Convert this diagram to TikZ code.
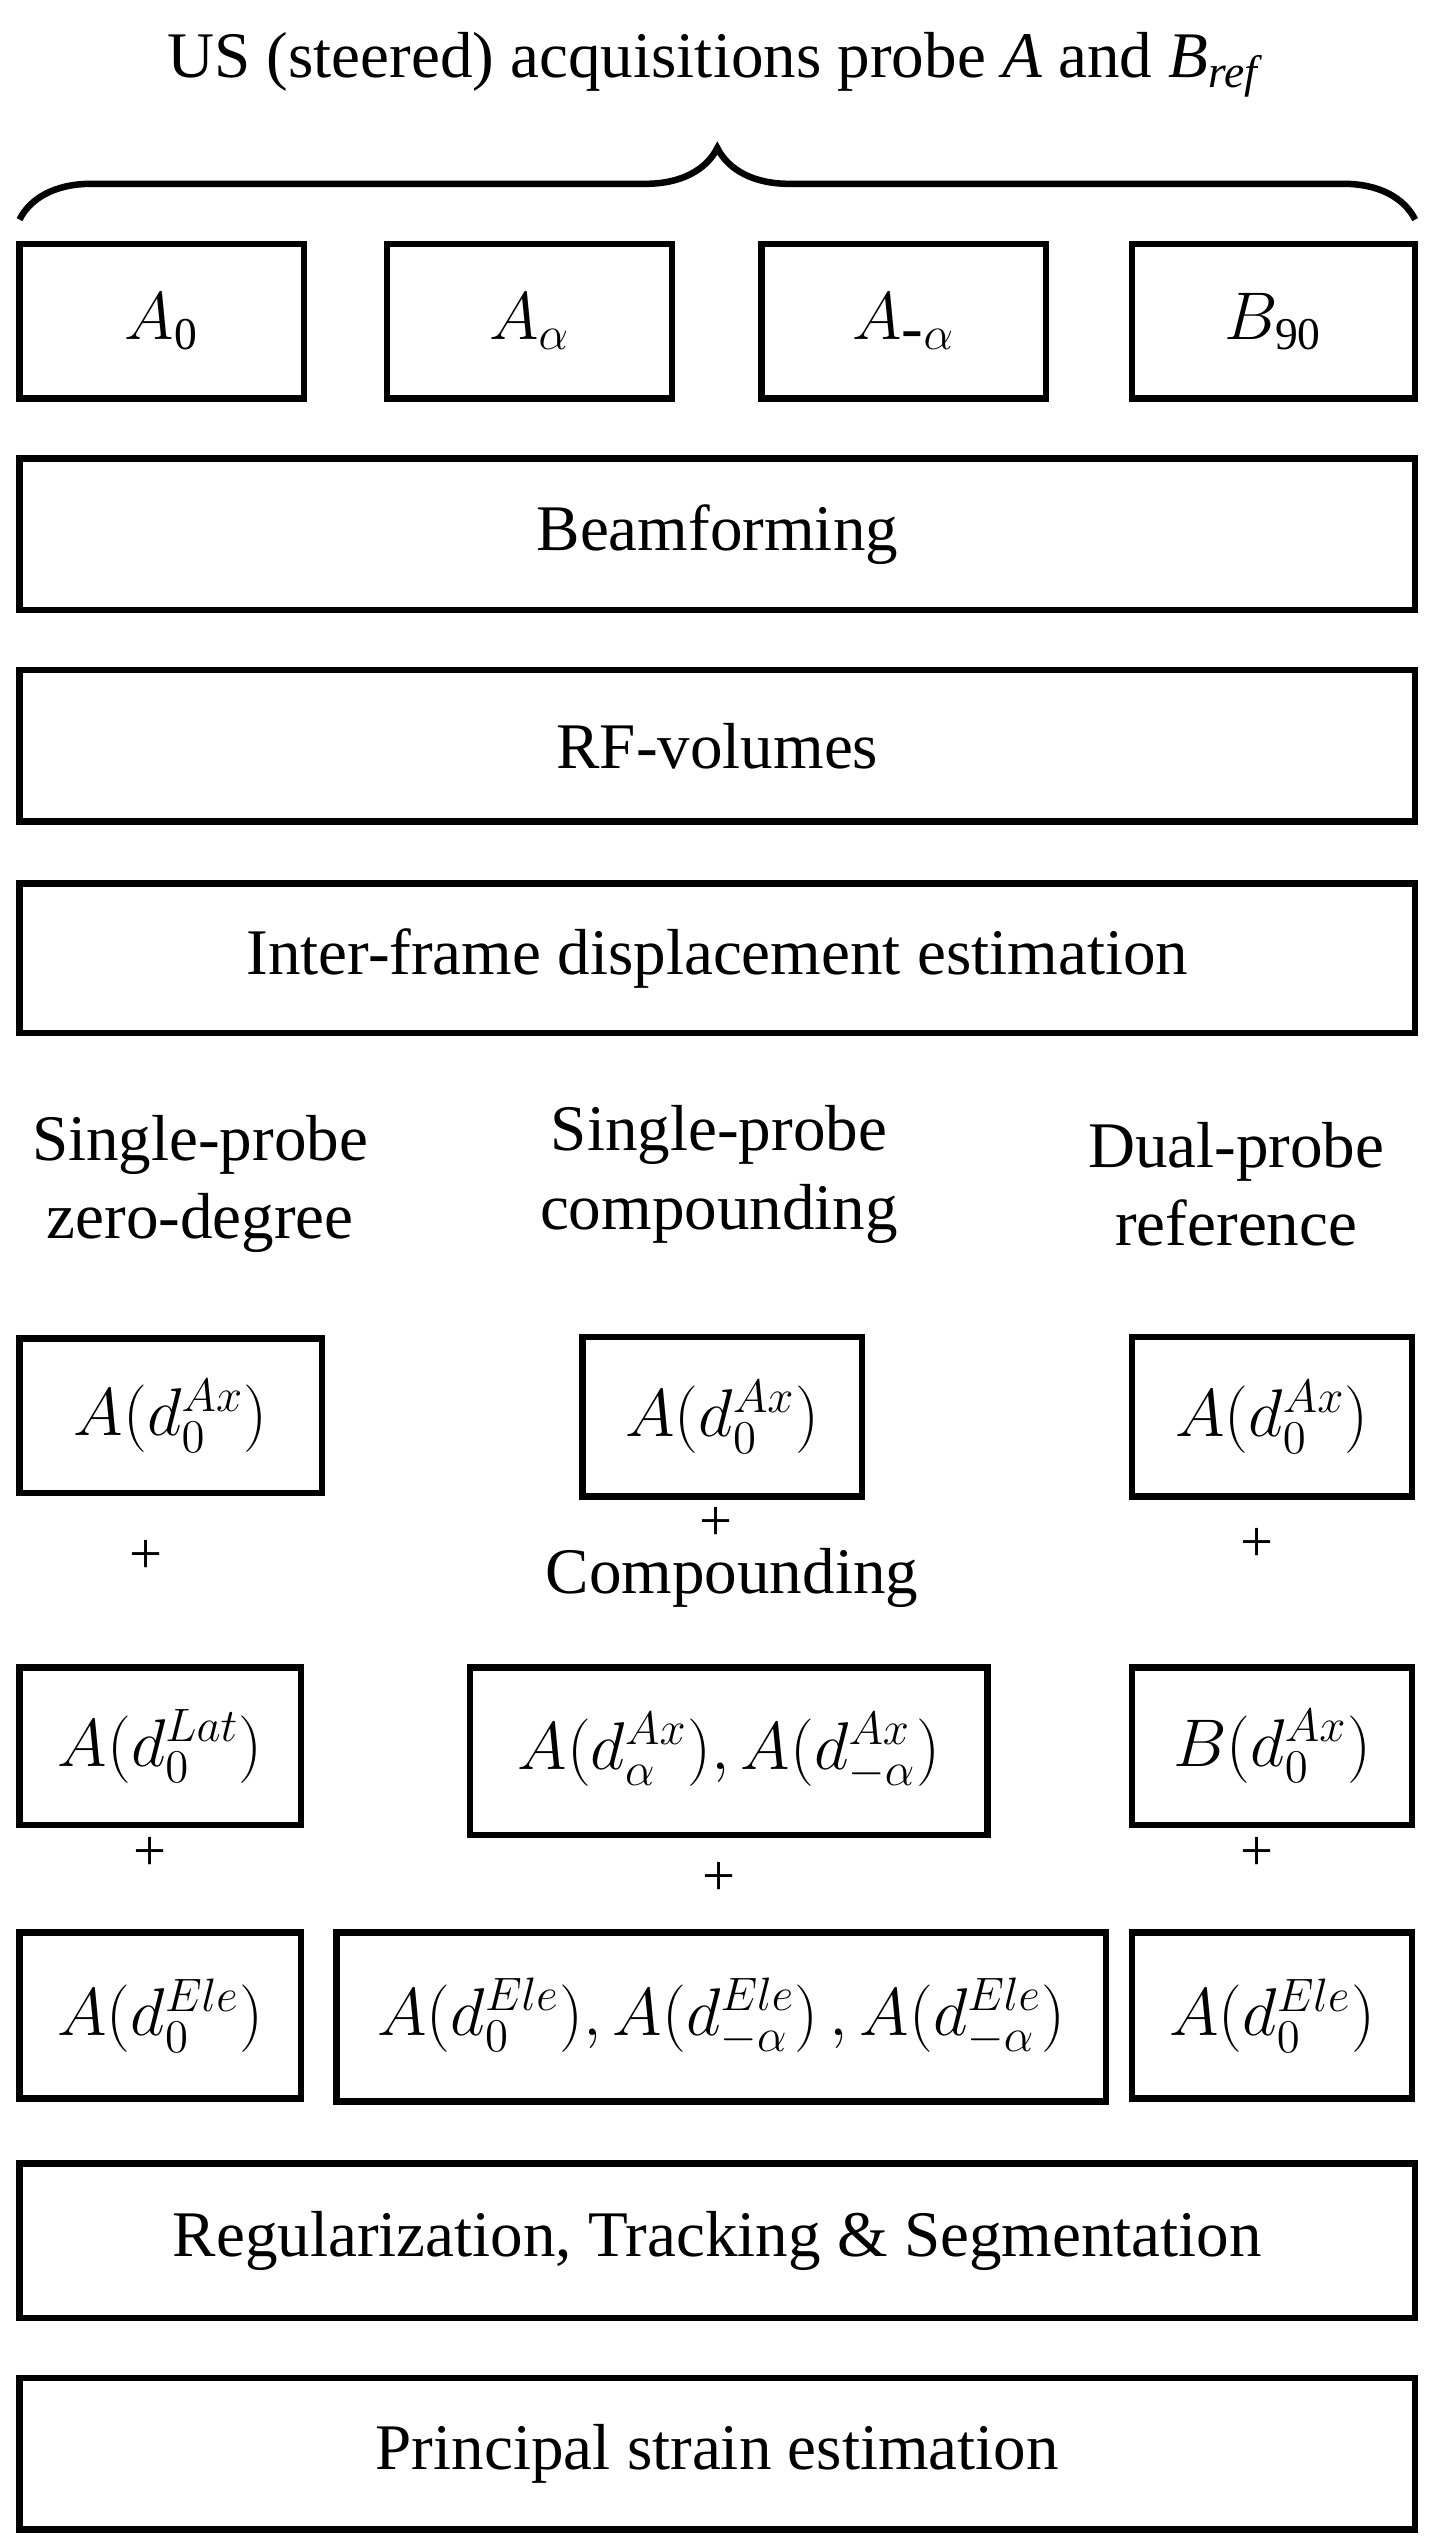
\documentclass[tikz,border=0pt]{standalone}
\usepackage{fontspec}
\setmainfont{Liberation Serif}
\usetikzlibrary{decorations.pathreplacing}
\begin{document}
\begin{tikzpicture}[x=0.5pt,y=-0.5pt,
  bx/.style={draw,line width=2pt,inner sep=0pt},
  lbl/.style={font=\fontsize{20}{24}\selectfont,align=center},
  pl/.style={font=\fontsize{18}{20}\selectfont}]
\useasboundingbox (0,0) rectangle (880,1564);
\node[lbl] (title) at (440,40) {US (steered) acquisitions probe \textit{A} and \textit{B}\textsubscript{\textit{ref}}};
\draw[line width=2pt,decorate,decoration={brace,amplitude=22pt}] (12,135) -- (870,135);
\newcommand{\bxx}[6]{\node[bx,lbl,minimum width={(#4-#2)*0.5pt},minimum height={(#5-#3)*0.5pt}] (#1) at ({(#2+#4)/2},{(#3+#5)/2}) {#6};}
\bxx{a0}{12}{150}{187}{245}{$A_{\mathrm{0}}$}
\bxx{aa}{238}{150}{413}{245}{$A_{\alpha}$}
\bxx{ama}{468}{150}{643}{245}{$A_{\mbox{-}\alpha}$}
\bxx{b90}{696}{150}{870}{245}{$B_{\mathrm{90}}$}
\bxx{bf}{12}{282}{870}{375}{Beamforming}
\bxx{rf}{12}{412}{870}{505}{RF-volumes}
\bxx{ife}{12}{543}{870}{635}{Inter-frame displacement estimation}
\node[lbl] (h1) at (123,728) {Single-probe\\zero-degree};
\node[lbl] (h2) at (442,722) {Single-probe\\compounding};
\node[lbl] (h3) at (760,728) {Dual-probe\\reference};
\bxx{r1a}{12}{823}{198}{918}{$A(d_0^{Ax})$}
\bxx{r1b}{358}{822}{530}{920}{$A(d_0^{Ax})$}
\bxx{r1c}{696}{822}{868}{920}{$A(d_0^{Ax})$}
\node[pl] (p1) at (90,957) {+};
\node[pl] (p2) at (440,937) {+};
\node[pl] (p3) at (773,950) {+};
\node[lbl] (cmp) at (450,970) {Compounding};
\bxx{r2a}{12}{1025}{185}{1122}{$A(d_0^{Lat})$}
\bxx{r2b}{289}{1025}{607}{1128}{$A(d_\alpha^{Ax}), A(d_{-\alpha}^{Ax})$}
\bxx{r2c}{696}{1025}{868}{1122}{$B(d_0^{Ax})$}
\node[pl] (p4) at (92,1140) {+};
\node[pl] (p5) at (442,1155) {+};
\node[pl] (p6) at (773,1140) {+};
\bxx{r3a}{12}{1188}{185}{1290}{$A(d_0^{Ele})$}
\bxx{r3b}{207}{1188}{680}{1292}{$A(d_0^{Ele}), A(d_{-\alpha}^{Ele})\,, A(d_{-\alpha}^{Ele})$}
\bxx{r3c}{696}{1188}{868}{1290}{$A(d_0^{Ele})$}
\bxx{reg}{12}{1330}{870}{1425}{Regularization, Tracking \& Segmentation}
\bxx{pse}{12}{1462}{870}{1555}{Principal strain estimation}
\end{tikzpicture}
\end{document}
